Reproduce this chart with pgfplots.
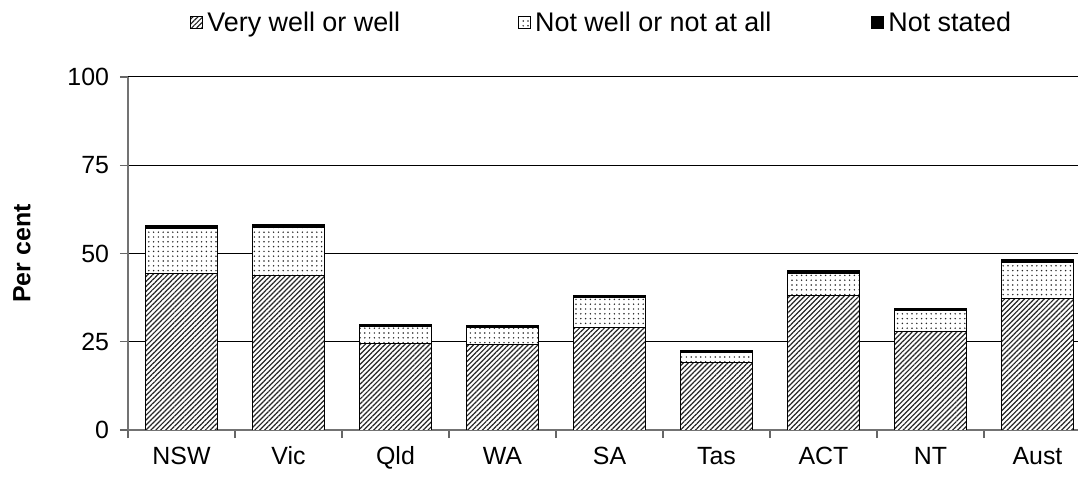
\documentclass[border=0pt]{standalone}
\usepackage{pgfplots}
\pgfplotsset{compat=1.18}
\usepackage{fontspec}
\setmainfont{Liberation Sans}
\usetikzlibrary{patterns.meta}

\tikzset{
  hatch/.style={draw=black, line width=0.5bp, fill=white,
    postaction={pattern={Lines[angle=45,distance=1.75bp,line width=0.6bp]}, pattern color=black!85}},
  dotty/.style={draw=black, line width=0.5bp, fill=white,
    postaction={pattern={Dots[distance=2.4bp,radius=0.42bp]}, pattern color=black!85}},
}

\begin{document}
\begin{tikzpicture}
\useasboundingbox (-64bp,-23.5bp) rectangle (475bp,215bp);
\begin{axis}[
    at={(0,0)}, anchor=south west,
    scale only axis,
    width=481.5bp, height=176.5bp,
    ybar stacked,
    bar width=0.67,
    xmin=-0.5, xmax=8.5,
    ymin=0, ymax=100,
    ytick={0,25,50,75,100},
    xtick={-0.5,0.5,...,8.5},
    x tick label as interval,
    xticklabels={NSW,Vic,Qld,WA,SA,Tas,ACT,NT,Aust},
    axis lines=left,
    axis line style={-, draw=black!55, line width=0.8bp},
    tick align=outside,
    major tick length=4bp,
    tick style={draw=black!60, line width=0.7bp},
    ymajorgrids,
    grid style={black, line width=0.5bp},
    /pgf/number format/assume math mode=true,
    tick label style={font=\fontsize{12.5}{15}\selectfont},
    yticklabel style={xshift=-2bp},
    xticklabel style={text height=9bp, text depth=2.5bp, yshift=-0.5bp},
    ylabel={\bfseries Per cent},
    ylabel style={font=\fontsize{12.5}{15}\selectfont, at={(axis description cs:0,0.5)}, anchor=center, yshift=53bp},
    legend columns=3,
    legend style={draw=none, fill=none, inner sep=0pt,
      at={(axis description cs:0,1)}, anchor=west, xshift=31bp, yshift=27bp,
      font=\fontsize{13.5}{16}\selectfont,
      /tikz/column 2/.style={column sep=57bp},
      /tikz/column 4/.style={column sep=48bp}},
    legend image code/.code={\draw[#1] (0bp,-3bp) rectangle (6bp,3bp);},
]
\addplot[hatch] coordinates {(0,44.2) (1,43.8) (2,24.5) (3,24.2) (4,29.1) (5,19.2) (6,38.0) (7,27.9) (8,37.3)};
\addplot[dotty] coordinates {(0,12.9) (1,13.7) (2,4.7) (3,4.9) (4,8.3) (5,2.7) (6,6.3) (7,5.9) (8,10.1)};
\addplot[draw=black, line width=0.5bp, fill=black] coordinates {(0,0.7) (1,0.8) (2,0.6) (3,0.5) (4,0.6) (5,0.5) (6,0.8) (7,0.7) (8,0.8)};
\legend{Very well or well, Not well or not at all, Not stated}
\end{axis}
\end{tikzpicture}
\end{document}
